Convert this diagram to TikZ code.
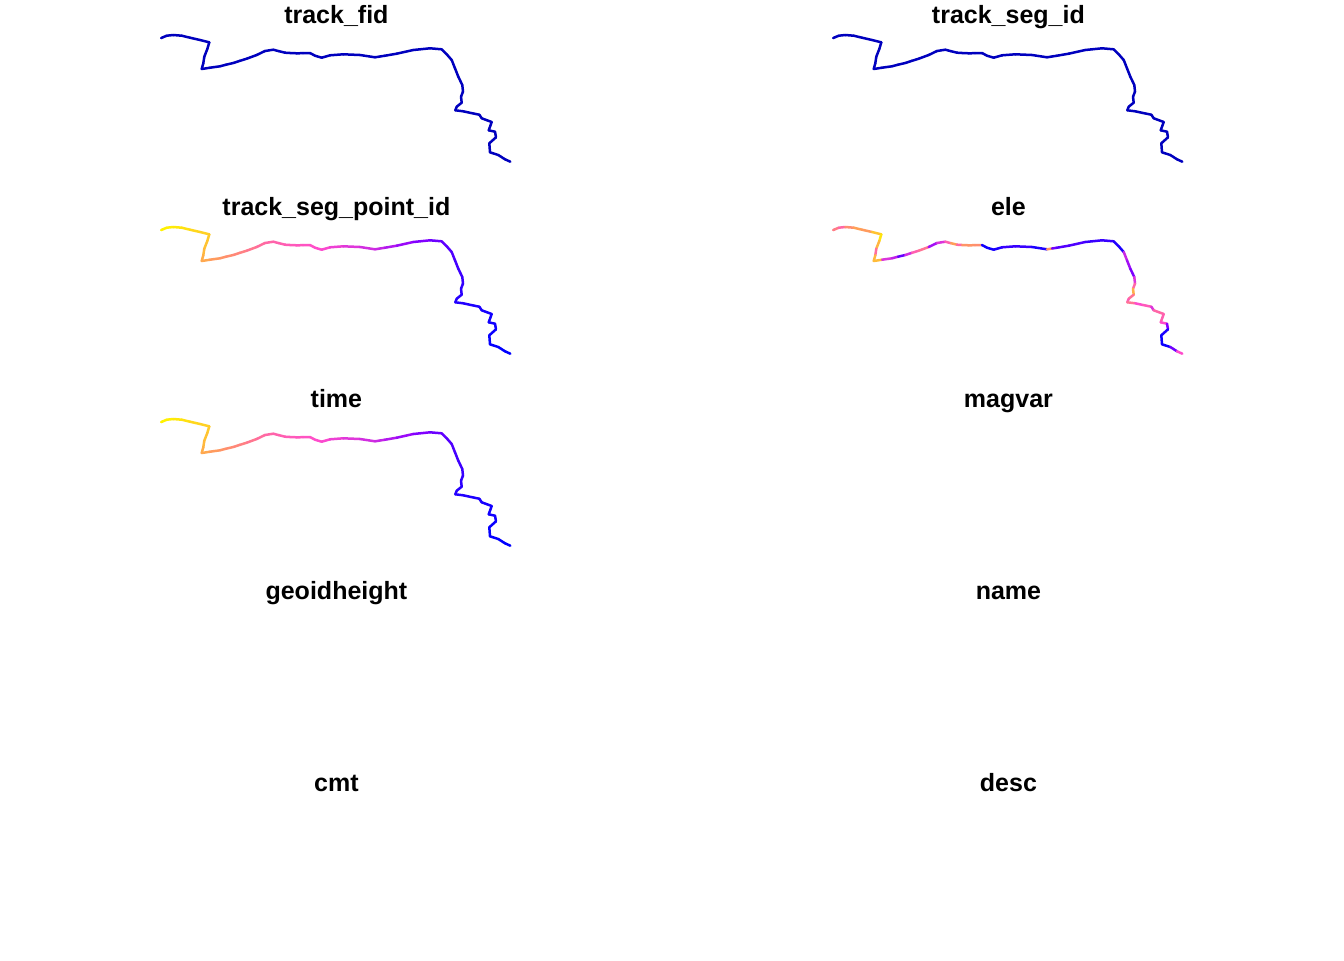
\documentclass[tikz,border=0pt]{standalone}
\usepackage{fontspec}
\setmainfont{Liberation Sans}
\newcommand\trackpts{%
161.3/38/1/1/.68,
166.7/35.7/1/1/.65,
173.3/35/.99/.99/.58,
181.7/35.7/.97/.97/.7,
190/37.7/.95/.95/.76,
200/40/.92/.92/.74,
209.3/42.3/.9/.9/.86,
207.3/49/.88/.88/.96,
204.3/56.7/.86/.86/.82,
203.3/63.3/.83/.83/.6,
201.7/69/.8/.8/.82,
210/67.7/.78/.78/.84,
220/66.3/.74/.74/.42,
226/64.7/.72/.72/.36,
233.3/63/.7/.7/.18,
240/60.8/.68/.68/.4,
246.7/58.7/.66/.66/.56,
256.7/55/.63/.63/.62,
265/51/.6/.6/.3,
273.3/49.7/.58/.58/.42,
279/51.2/.57/.57/.56,
285/52.7/.56/.56/.75,
290/53/.55/.55/.58,
296.7/53.3/.54/.54/.72,
303/53.2/.53/.53/.72,
310/53/.52/.52/.7,
315/55.7/.51/.51/.03,
321.7/57.7/.5/.5/.03,
330/55.3/.49/.49/.05,
343.3/54.3/.46/.46/.1,
360/55/.43/.43/.1,
375/57.3/.4/.4/.05,
380/56.5/.38/.38/.72,
385/55.7/.37/.37/.2,
396.7/53.7/.33/.33/.15,
413.3/50/.28/.28/.14,
430/48.3/.23/.23/.1,
441.7/49.3/.19/.19/.1,
446.7/54.3/.17/.17/.06,
451.7/60/.15/.15/.05,
455/68.3/.14/.14/.38,
458.3/76.7/.12/.12/.3,
462.3/85/.11/.11/.22,
463/91.7/.1/.1/.42,
461/96.7/.09/.09/.58,
461.7/102.7/.08/.08/.8,
456.7/106.7/.07/.07/.62,
455.3/110.3/.07/.07/.55,
463.3/111.3/.06/.06/.62,
471/113/.06/.06/.5,
479.3/114.7/.05/.05/.54,
481.7/118.3/.05/.05/.42,
491.7/122/.04/.04/.58,
488.7/130.3/.03/.03/.56,
495/131.7/.03/.03/.5,
496/137.3/.03/.03/.24,
489.3/143.3/.02/.02/.05,
490/152.3/.01/.01/.02,
498.3/155/.01/.01/.02,
505/159.3/0/0/.2,
510.3/161.7/0/0/.5%
}
\newcommand\setcc[1]{%
  \pgfmathsetmacro\vv{(#1)*4}%
  \pgfmathtruncatemacro\ii{min(3,floor(\vv))}%
  \pgfmathtruncatemacro\jj{\ii+1}%
  \pgfmathsetmacro\ff{\vv-\ii}%
  \pgfmathsetmacro\rr{{0,0.55,1,1,1}[\ii]*(1-\ff)+{0,0.55,1,1,1}[\jj]*\ff}%
  \pgfmathsetmacro\gg{{0,0,0.3,0.62,0.95}[\ii]*(1-\ff)+{0,0,0.3,0.62,0.95}[\jj]*\ff}%
  \pgfmathsetmacro\bb{{1,1,0.8,0.35,0}[\ii]*(1-\ff)+{1,1,0.8,0.35,0}[\jj]*\ff}%
  \definecolor{cc}{rgb}{\rr,\gg,\bb}%
}
% #1 x offset, #2 y offset, #3 0 plain / 1 time / 2 point id / 3 elevation
\newcommand\trackpanel[3]{%
  \begin{scope}[shift={(#1,#2)}]
    \foreach \px/\py/\tv/\pv/\ev [remember=\px as \lx (initially 161.3),remember=\py as \ly (initially 38)] in \trackpts {
      \ifcase#3 \definecolor{cc}{HTML}{0000BE}\or\setcc{\tv}\or\setcc{\pv}\or\setcc{\ev}\fi
      \draw[trackline,draw=cc] (\lx,\ly) -- (\px,\py);
    }
  \end{scope}%
}
\begin{document}
\begin{tikzpicture}[x=1bp,y=-1bp,
  trackline/.style={line width=2.5bp,line cap=round,line join=round},
  paneltitle/.style={anchor=base,inner sep=0pt,font=\fontsize{25.1}{30}\selectfont\bfseries}]
\fill[white] (0,0) rectangle (1344,960);
\useasboundingbox (0,0) rectangle (1344,960);
\node[paneltitle] (t1) at (336.4,23.6) {track\_fid};
\node[paneltitle] (t2) at (1008.4,23.6) {track\_seg\_id};
\node[paneltitle] (t3) at (336.4,215.6) {track\_seg\_point\_id};
\node[paneltitle] (t4) at (1008.4,215.6) {ele};
\node[paneltitle] (t5) at (336.4,407.6) {time};
\node[paneltitle] (t6) at (1008.4,407.6) {magvar};
\node[paneltitle] (t7) at (336.4,599.6) {geoidheight};
\node[paneltitle] (t8) at (1008.4,599.6) {name};
\node[paneltitle] (t9) at (336.4,791.6) {cmt};
\node[paneltitle] (t10) at (1008.4,791.6) {desc};
\trackpanel{0}{0}{0}
\trackpanel{672}{0}{0}
\trackpanel{0}{192}{2}
\trackpanel{672}{192}{3}
\trackpanel{0}{384}{1}
\end{tikzpicture}
\end{document}
